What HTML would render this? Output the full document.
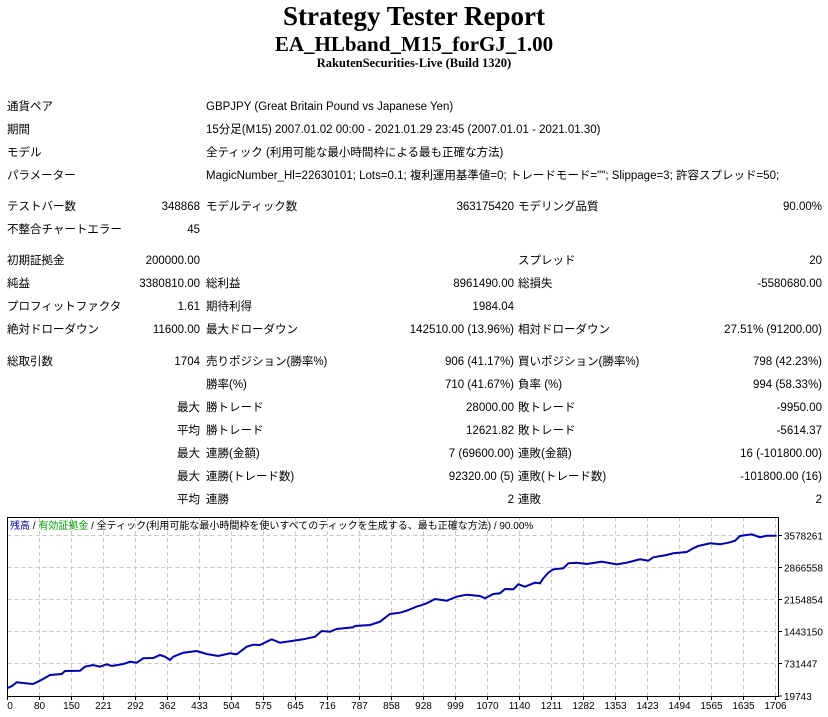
<!DOCTYPE html>
<html><head><meta charset="utf-8"><style>
body{margin:0;width:828px;height:717px;background:#fff;position:relative;overflow:hidden;font-family:"Liberation Sans","Noto Sans CJK JP",sans-serif;font-size:11.5px;color:#000}
.t{position:absolute;white-space:nowrap;line-height:16px}
.r{text-align:right}
.h{position:absolute;left:0;width:828px;text-align:center;font-family:"Liberation Serif",serif;font-weight:bold;white-space:nowrap}
</style></head><body>
<div class="h" style="top:0px;font-size:27px;line-height:32px">Strategy Tester Report</div>
<div class="h" style="top:31px;font-size:21px;line-height:26px">EA_HLband_M15_forGJ_1.00</div>
<div class="h" style="top:55px;font-size:12.5px;line-height:16px">RakutenSecurities-Live (Build 1320)</div>

<div class="t" style="left:7px;top:99px">通貨ペア</div><div class="t" style="left:206px;top:99px">GBPJPY (Great Britain Pound vs Japanese Yen)</div>
<div class="t" style="left:7px;top:122px">期間</div><div class="t" style="left:206px;top:122px">15分足(M15) 2007.01.02 00:00 - 2021.01.29 23:45 (2007.01.01 - 2021.01.30)</div>
<div class="t" style="left:7px;top:145px">モデル</div><div class="t" style="left:206px;top:145px">全ティック (利用可能な最小時間枠による最も正確な方法)</div>
<div class="t" style="left:7px;top:168px">パラメーター</div><div class="t" style="left:206px;top:168px">MagicNumber_Hl=22630101; Lots=0.1; 複利運用基準値=0; トレードモード=""; Slippage=3; 許容スプレッド=50;</div>

<div class="t" style="left:7px;top:199px">テストバー数</div><div class="t r" style="right:628px;top:199px">348868</div>
<div class="t" style="left:206px;top:199px">モデルティック数</div><div class="t r" style="right:314px;top:199px">363175420</div>
<div class="t" style="left:518px;top:199px">モデリング品質</div><div class="t r" style="right:6px;top:199px">90.00%</div>
<div class="t" style="left:7px;top:222px">不整合チャートエラー</div><div class="t r" style="right:628px;top:222px">45</div>

<div class="t" style="left:7px;top:253px">初期証拠金</div><div class="t r" style="right:628px;top:253px">200000.00</div>
<div class="t" style="left:518px;top:253px">スプレッド</div><div class="t r" style="right:6px;top:253px">20</div>
<div class="t" style="left:7px;top:276px">純益</div><div class="t r" style="right:628px;top:276px">3380810.00</div>
<div class="t" style="left:206px;top:276px">総利益</div><div class="t r" style="right:314px;top:276px">8961490.00</div>
<div class="t" style="left:518px;top:276px">総損失</div><div class="t r" style="right:6px;top:276px">-5580680.00</div>
<div class="t" style="left:7px;top:299px">プロフィットファクタ</div><div class="t r" style="right:628px;top:299px">1.61</div>
<div class="t" style="left:206px;top:299px">期待利得</div><div class="t r" style="right:314px;top:299px">1984.04</div>
<div class="t" style="left:7px;top:322px">絶対ドローダウン</div><div class="t r" style="right:628px;top:322px">11600.00</div>
<div class="t" style="left:206px;top:322px">最大ドローダウン</div><div class="t r" style="right:314px;top:322px">142510.00 (13.96%)</div>
<div class="t" style="left:518px;top:322px">相対ドローダウン</div><div class="t r" style="right:6px;top:322px">27.51% (91200.00)</div>

<div class="t" style="left:7px;top:354px">総取引数</div><div class="t r" style="right:628px;top:354px">1704</div>
<div class="t" style="left:206px;top:354px">売りポジション(勝率%)</div><div class="t r" style="right:314px;top:354px">906 (41.17%)</div>
<div class="t" style="left:518px;top:354px">買いポジション(勝率%)</div><div class="t r" style="right:6px;top:354px">798 (42.23%)</div>
<div class="t" style="left:206px;top:377px">勝率(%)</div><div class="t r" style="right:314px;top:377px">710 (41.67%)</div>
<div class="t" style="left:518px;top:377px">負率 (%)</div><div class="t r" style="right:6px;top:377px">994 (58.33%)</div>
<div class="t r" style="right:628px;top:400px">最大</div><div class="t" style="left:206px;top:400px">勝トレード</div><div class="t r" style="right:314px;top:400px">28000.00</div>
<div class="t" style="left:518px;top:400px">敗トレード</div><div class="t r" style="right:6px;top:400px">-9950.00</div>
<div class="t r" style="right:628px;top:423px">平均</div><div class="t" style="left:206px;top:423px">勝トレード</div><div class="t r" style="right:314px;top:423px">12621.82</div>
<div class="t" style="left:518px;top:423px">敗トレード</div><div class="t r" style="right:6px;top:423px">-5614.37</div>
<div class="t r" style="right:628px;top:446px">最大</div><div class="t" style="left:206px;top:446px">連勝(金額)</div><div class="t r" style="right:314px;top:446px">7 (69600.00)</div>
<div class="t" style="left:518px;top:446px">連敗(金額)</div><div class="t r" style="right:6px;top:446px">16 (-101800.00)</div>
<div class="t r" style="right:628px;top:469px">最大</div><div class="t" style="left:206px;top:469px">連勝(トレード数)</div><div class="t r" style="right:314px;top:469px">92320.00 (5)</div>
<div class="t" style="left:518px;top:469px">連敗(トレード数)</div><div class="t r" style="right:6px;top:469px">-101800.00 (16)</div>
<div class="t r" style="right:628px;top:492px">平均</div><div class="t" style="left:206px;top:492px">連勝</div><div class="t r" style="right:314px;top:492px">2</div>
<div class="t" style="left:518px;top:492px">連敗</div><div class="t r" style="right:6px;top:492px">2</div>

<svg style="position:absolute;left:0;top:510px" width="828" height="207" viewBox="0 510 828 207" font-family="Liberation Sans, Noto Sans CJK JP, sans-serif">
<g stroke="#c8c8c8" stroke-dasharray="4,3" stroke-width="1">
<path d="M7.5 535.5H778M7.5 567.5H778M7.5 599.5H778M7.5 631.5H778M7.5 663.5H778"/>
<path d="M39.5 517V696M71.5 517V696M103.5 517V696M135.5 517V696M167.5 517V696M199.5 517V696M231.5 517V696M263.5 517V696M295.5 517V696M327.5 517V696M359.5 517V696M391.5 517V696M423.5 517V696M455.5 517V696M487.5 517V696M519.5 517V696M551.5 517V696M583.5 517V696M615.5 517V696M647.5 517V696M679.5 517V696M711.5 517V696M743.5 517V696M775.5 517V696"/>
</g>
<rect x="7.5" y="517.5" width="771" height="179" fill="none" stroke="#000"/>
<g stroke="#000"><path d="M778 535.5h4M778 567.5h4M778 599.5h4M778 631.5h4M778 663.5h4M778 696h4"/>
<path d="M7.5 697v3M39.5 697v3M71.5 697v3M103.5 697v3M135.5 697v3M167.5 697v3M199.5 697v3M231.5 697v3M263.5 697v3M295.5 697v3M327.5 697v3M359.5 697v3M391.5 697v3M423.5 697v3M455.5 697v3M487.5 697v3M519.5 697v3M551.5 697v3M583.5 697v3M615.5 697v3M647.5 697v3M679.5 697v3M711.5 697v3M743.5 697v3M775.5 697v3"/></g>
<polyline fill="none" stroke="#0000b0" stroke-width="2" points="7,688.3 12,686 16.7,682.3 23,683 33,684 40,680.7 50,675 61.7,674 65,671 80,670.7 85,666.7 93,665 100,666.7 106.7,664.3 111.7,666 123.3,664 130,661.7 136.7,662.7 143.3,658.3 153.3,658 160,655 165,656.7 170,660 173.3,656.7 183.3,652.7 196.7,651 206.7,654 218.3,656 230,653.3 236.7,654.3 246.7,646.7 253.3,644.7 260,645 266.7,641.7 271.7,639.3 280,642.7 293.3,640.7 303.3,639.3 315,636.7 321.7,631 330,631.7 336.7,629 353.3,627.3 355,626 370,625 380,621.7 390,614 400,612.7 406.7,610.7 418.3,606 420,605.7 426.7,603.3 435,599 446.7,600.7 456.7,596.7 466.7,594.7 480,596 485,598.3 493.3,594 500,593.3 505,589 513.3,589.3 518.3,584.3 525,586.7 535,582.7 540,583.3 543.3,578.3 548.3,572.7 553.3,569.3 563.3,568.3 568.3,563.3 576.7,562.7 586.7,564 601.7,561.7 616.7,564.3 626.7,562.7 640,559.3 648.3,560.7 653.3,557.3 666.7,555 673.3,553.3 686.7,552 693.3,548.3 698.3,546 710,543.3 720,544.3 730,542.3 735,540.7 740,536 751.7,534.3 760,537.3 766.7,535.7 776.7,535.7"/>
<text x="10" y="529" font-size="10"><tspan fill="#0000b0">残高</tspan> / <tspan fill="#00a000">有効証拠金</tspan> / 全ティック(利用可能な最小時間枠を使いすべてのティックを生成する、最も正確な方法) / 90.00%</text>
<g font-size="10" fill="#000">
<text x="784" y="539.5">3578261</text><text x="784" y="571.5">2866558</text><text x="784" y="603.5">2154854</text><text x="784" y="635.5">1443150</text><text x="784" y="667.5">731447</text><text x="784" y="700">19743</text>
</g>
<g font-size="10" fill="#000" text-anchor="middle">
<text x="10" y="709">0</text><text x="39.5" y="709">80</text><text x="71.5" y="709">150</text><text x="103.5" y="709">221</text><text x="135.5" y="709">292</text><text x="167.5" y="709">362</text><text x="199.5" y="709">433</text><text x="231.5" y="709">504</text><text x="263.5" y="709">575</text><text x="295.5" y="709">645</text><text x="327.5" y="709">716</text><text x="359.5" y="709">787</text><text x="391.5" y="709">858</text><text x="423.5" y="709">928</text><text x="455.5" y="709">999</text><text x="487.5" y="709">1070</text><text x="519.5" y="709">1140</text><text x="551.5" y="709">1211</text><text x="583.5" y="709">1282</text><text x="615.5" y="709">1353</text><text x="647.5" y="709">1423</text><text x="679.5" y="709">1494</text><text x="711.5" y="709">1565</text><text x="743.5" y="709">1635</text><text x="775.5" y="709">1706</text>
</g>
</svg>
</body></html>
